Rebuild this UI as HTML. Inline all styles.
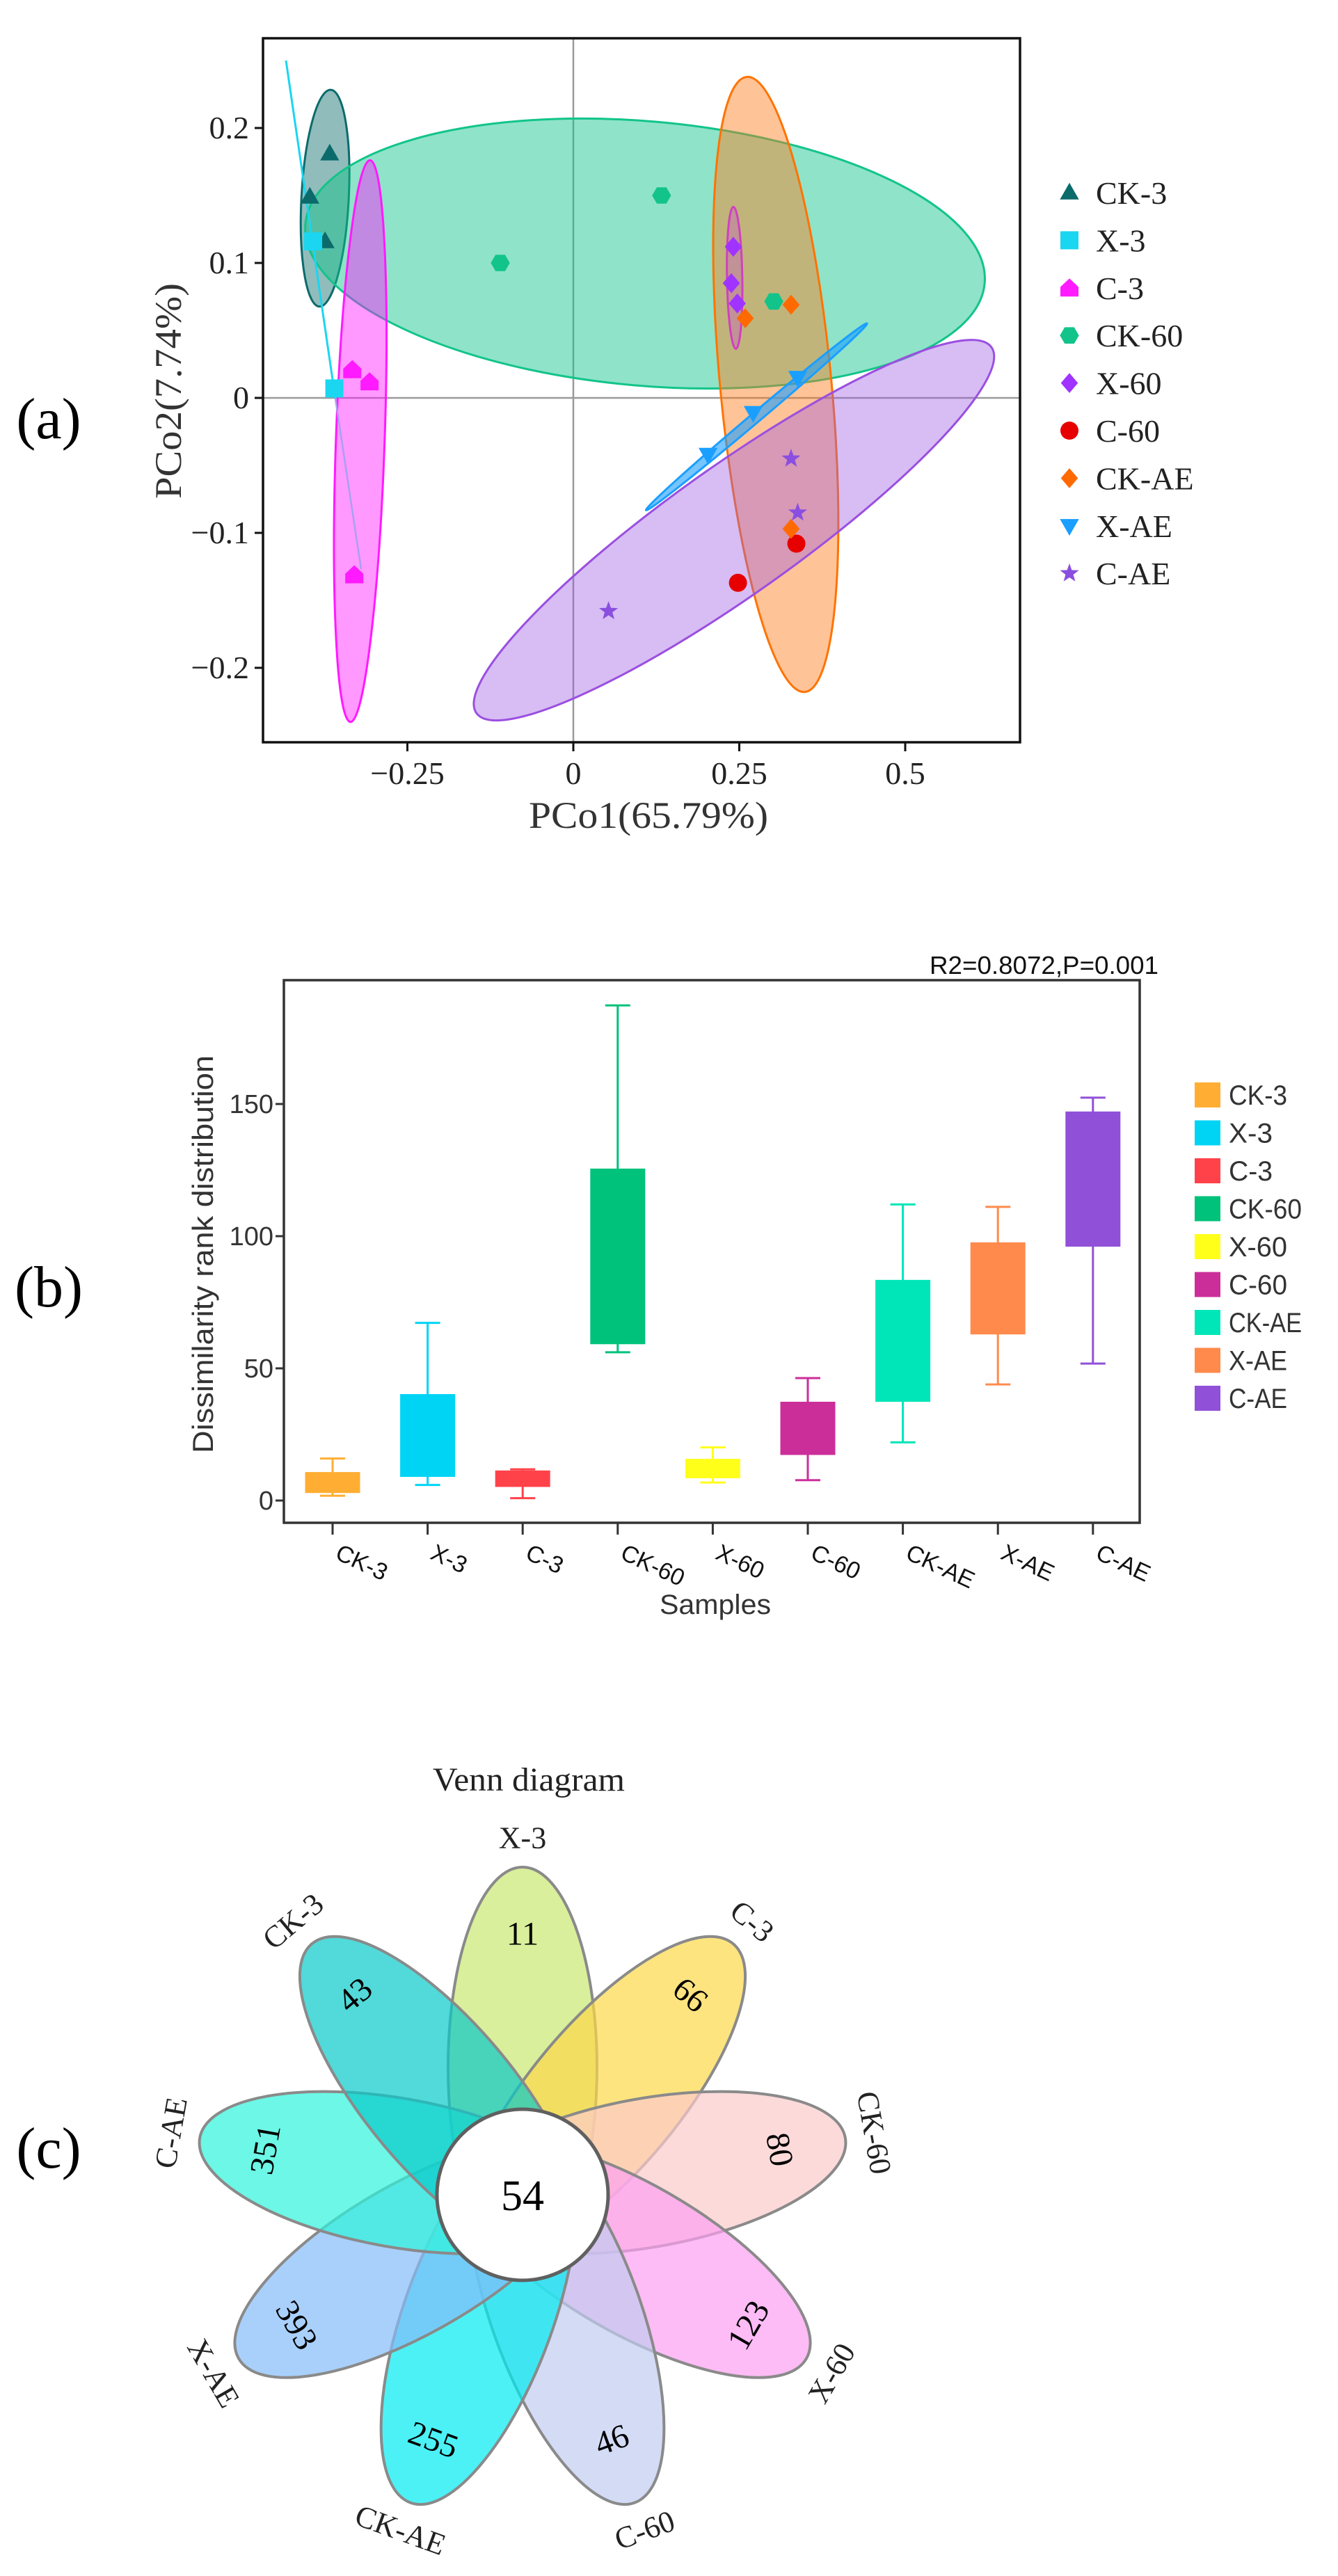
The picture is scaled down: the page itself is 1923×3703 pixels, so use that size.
<!DOCTYPE html>
<html><head><meta charset="utf-8"><title>PCoA, dissimilarity rank, Venn</title>
<style>html,body{margin:0;padding:0;background:#fff;}svg{display:block;}</style></head>
<body>
<svg id="fig" xmlns="http://www.w3.org/2000/svg" width="1923" height="3703" viewBox="0 0 1923 3703">
<rect x="0" y="0" width="1923" height="3703" fill="#fff"/>
<g id="pa"></g>
<g id="pb"></g>
<g id="pc"></g>
</svg>
<script>
// ---------- Panel (a) data ----------
const groupsA = ["CK-3","X-3","C-3","CK-60","X-60","C-60","CK-AE","X-AE","C-AE"];
const colorsA = ["#0b6b6b","#1ad6f0","#ff1aff","#12c48a","#a033ff","#e60000","#ff6a00","#1a9fff","#8a4fe0"];
const shapesA = ["tri","square","pent","hex","diamond","circle","diamond","tridown","star"];
const ptsX = [[-0.367,-0.397,-0.374],[-0.392,-0.360],[-0.333,-0.307,-0.330],[-0.110,0.133,0.302],[0.241,0.238,0.247],[0.336,0.248],[0.328,0.259,0.328],[0.338,0.271,0.203],[0.328,0.338,0.053]];
const ptsY = [[0.181,0.149,0.116],[0.116,0.007],[0.021,0.012,-0.131],[0.100,0.150,0.0715],[0.112,0.085,0.070],[-0.108,-0.137],[0.069,0.059,-0.097],[0.015,-0.011,-0.042],[-0.045,-0.085,-0.158]];
const xTicksA = [-0.25,0,0.25,0.5];
const xTickLabelsA = ["\u22120.25","0","0.25","0.5"];
const yTicksA = [0.2,0.1,0,-0.1,-0.2];
const yTickLabelsA = ["0.2","0.1","0","\u22120.1","\u22120.2"];

// ---------- Panel (b) data ----------
const catsB = ["CK-3","X-3","C-3","CK-60","X-60","C-60","CK-AE","X-AE","C-AE"];
const colorsB = ["#ffae33","#00d4f5","#ff4249","#00c27a","#ffff1a","#cc2e99","#00e6b8","#ff8a4c","#9050d8"];
const whiskHi = [15.9,67.2,11.8,187.3,20.1,46.3,112.0,111.1,152.4];
const q3B = [10.5,40.0,11.1,125.3,15.5,37.1,83.2,97.4,146.9];
const q1B = [3.1,9.2,5.4,59.4,8.7,17.5,37.6,63.1,96.3];
const whiskLo = [1.8,5.9,0.9,56.1,6.8,7.7,22.0,43.9,51.8];
const yTicksB = [0,50,100,150];

// ---------- Panel (c) data ----------
const vennSets = ["X-3","C-3","CK-60","X-60","C-60","CK-AE","X-AE","C-AE","CK-3"];
const vennCounts = [11,66,80,123,46,255,393,351,43];
const vennColors = ["#c9e870","#fcd848","#fccaca","#fc9ff1","#c0ccf1","#00ebf1","#84bcf9","#2df3db","#08c9c9"];
const vennCore = 54;

const NS = "http://www.w3.org/2000/svg";
function mk(tag, attrs, parent){ const e=document.createElementNS(NS,tag); for(const k in attrs) e.setAttribute(k,attrs[k]); parent.appendChild(e); return e; }
function txt(s, attrs, parent){ const e=mk("text",attrs,parent); e.textContent=s; return e; }
const SERIF='"Liberation Serif", serif', SANS='"Liberation Sans", sans-serif';

// ================= Panel A =================
const pa=document.getElementById("pa");
const AX=v=>824+954*v, AY=v=>572-1940*v;
function marker(shape,cx,cy,r,color,parent){
  let e;
  if(shape==="circle") e=mk("circle",{cx:cx,cy:cy,r:r,fill:color},parent);
  else if(shape==="square") e=mk("rect",{x:cx-r,y:cy-r,width:2*r,height:2*r,fill:color},parent);
  else{
    let pts=[];
    if(shape==="tri") pts=[[0,-r*1.1],[r*1.05,r*0.75],[-r*1.05,r*0.75]];
    else if(shape==="tridown") pts=[[0,r*1.1],[r*1.05,-r*0.75],[-r*1.05,-r*0.75]];
    else if(shape==="diamond") pts=[[0,-r*1.1],[r*0.95,0],[0,r*1.1],[-r*0.95,0]];
    else if(shape==="pent") pts=[[0,-r*1.05],[r,-r*0.1],[r,r*0.95],[-r,r*0.95],[-r,-r*0.1]];
    else if(shape==="hex") for(let i=0;i<6;i++){const a=Math.PI/3*i;pts.push([r*1.05*Math.cos(a),r*1.05*Math.sin(a)]);}
    else if(shape==="star") for(let i=0;i<10;i++){const a=-Math.PI/2+Math.PI/5*i;const rr=i%2?r*0.45:r*1.1;pts.push([rr*Math.cos(a),rr*Math.sin(a)]);}
    e=mk("polygon",{points:pts.map(p=>(cx+p[0]).toFixed(1)+","+(cy+p[1]).toFixed(1)).join(" "),fill:color},parent);
  }
  return e;
}
// zero lines
let zl=mk("line",{x1:AX(0),y1:55,x2:AX(0),y2:1067,stroke:"#9a9a9a","stroke-width":2.5},pa);


zl=mk("line",{x1:378,y1:AY(0),x2:1466,y2:AY(0),stroke:"#9a9a9a","stroke-width":2.5},pa);


// confidence ellipses (pixel geometry)
const ell=[
 {n:"ck-3-ellipse",cx:-0.374,cy:0.148,rx:34,ry:156,rot:3,fill:"#0b6b6b",op:0.45,st:"#0b6b6b"},
 {n:"ck-60-ellipse",cx:0.108,cy:0.107,rx:490,ry:190,rot:5,fill:"#12c48a",op:0.47,st:"#12c48a"},
 {n:"c-3-ellipse",cx:-0.321,cy:-0.032,rx:35,ry:404,rot:2,fill:"#ff1aff",op:0.45,st:"#ff1aff"},
 {n:"ck-ae-ellipse",cx:0.305,cy:0.010,rx:80,ry:444,rot:-5.4,fill:"#ff7a1a",op:0.45,st:"#ff7300"},
 {n:"c-ae-ellipse",cx:0.242,cy:-0.098,rx:454,ry:92,rot:-35.4,fill:"#9b5be0",op:0.4,st:"#9b4fe0"},
 {n:"x-60-ellipse",cx:0.243,cy:0.089,rx:11,ry:102,rot:-1,fill:"#c060c0",op:0.4,st:"#d040c0"},
 {n:"x-ae-ellipse",cx:0.276,cy:-0.014,rx:208,ry:7,rot:-40.2,fill:"#1a9fff",op:0.6,st:"#1a9fff"}
];
ell.forEach(o=>{
  const e=mk("ellipse",{cx:AX(o.cx),cy:AY(o.cy),rx:o.rx,ry:o.ry,transform:`rotate(${o.rot} ${AX(o.cx)} ${AY(o.cy)})`,fill:o.fill,"fill-opacity":o.op,stroke:o.st,"stroke-width":3},pa);
  
  
});
let xl=mk("line",{x1:411,y1:87,x2:482,y2:573,stroke:"#1ad6f0","stroke-width":3},pa);


xl=mk("line",{x1:482,y1:573,x2:519,y2:818,stroke:"#a8a0f0","stroke-width":2.5},pa);


// points
groupsA.forEach((g,gi)=>{
  ptsX[gi].forEach((vx,j)=>{
    const m=marker(shapesA[gi],AX(vx),AY(ptsY[gi][j]),13,colorsA[gi],pa);
    
    
  });
});
// frame
let fr=mk("rect",{x:378,y:55,width:1088,height:1012,fill:"none",stroke:"#111","stroke-width":3.5},pa);


xTicksA.forEach((v,i)=>{
  mk("line",{x1:AX(v),y1:1067,x2:AX(v),y2:1080,stroke:"#111","stroke-width":3},pa);
  const t=txt(xTickLabelsA[i],{x:AX(v),y:1127,"font-family":SERIF,"font-size":46,"text-anchor":"middle",fill:"#222"},pa);
  
  
});
yTicksA.forEach((v,i)=>{
  mk("line",{x1:366,y1:AY(v),x2:378,y2:AY(v),stroke:"#111","stroke-width":3},pa);
  const t=txt(yTickLabelsA[i],{x:358,y:AY(v)+15,"font-family":SERIF,"font-size":46,"text-anchor":"end",fill:"#222"},pa);
  
  
});
let t=txt("PCo1(65.79%)",{x:932,y:1190,"font-family":SERIF,"font-size":54,"text-anchor":"middle",fill:"#333",textLength:344,lengthAdjust:"spacingAndGlyphs"},pa);


t=txt("PCo2(7.74%)",{x:0,y:0,"font-family":SERIF,"font-size":54,"text-anchor":"middle",fill:"#333",textLength:310,lengthAdjust:"spacingAndGlyphs",transform:"translate(260 562) rotate(-90)"},pa);


t=txt("(a)",{x:70,y:630,"font-family":SERIF,"font-size":84,"text-anchor":"middle",fill:"#000"},pa);


groupsA.forEach((g,i)=>{
  const y=277+68.4*i;
  const m=marker(shapesA[i],1537,y,13,colorsA[i],pa);
  
  
  const lt=txt(g,{x:1575,y:y+16,"font-family":SERIF,"font-size":46,fill:"#222"},pa);
  
  
});

// ================= Panel B =================
const pb=document.getElementById("pb");
const BY=v=>2157-3.8*v, BX=i=>478+136.6*i, BW=77;
catsB.forEach((c,i)=>{
  const x=BX(i), col=colorsB[i];
  const g=mk("g",{},pb);
  
  
  mk("line",{x1:x,y1:BY(whiskHi[i]),x2:x,y2:BY(q3B[i]),stroke:col,"stroke-width":3},g);
  mk("line",{x1:x,y1:BY(q1B[i]),x2:x,y2:BY(whiskLo[i]),stroke:col,"stroke-width":3},g);
  mk("line",{x1:x-18,y1:BY(whiskHi[i]),x2:x+18,y2:BY(whiskHi[i]),stroke:col,"stroke-width":3},g);
  mk("line",{x1:x-18,y1:BY(whiskLo[i]),x2:x+18,y2:BY(whiskLo[i]),stroke:col,"stroke-width":3},g);
  mk("rect",{x:x-BW/2,y:BY(q3B[i]),width:BW,height:BY(q1B[i])-BY(q3B[i]),fill:col,stroke:col,"stroke-width":2},g);
  mk("line",{x1:x,y1:2189,x2:x,y2:2206,stroke:"#333","stroke-width":3},pb);
  const lt=txt(c,{x:0,y:0,"font-family":SANS,"font-size":34,fill:"#111",transform:`translate(${x+2} ${2240}) rotate(25)`},pb);
  
  
});
fr=mk("path",{d:"M408 1409 H1638 V2189 H408 Z",fill:"none",stroke:"#333","stroke-width":3.5},pb);


yTicksB.forEach(v=>{
  mk("line",{x1:396,y1:BY(v),x2:408,y2:BY(v),stroke:"#333","stroke-width":3},pb);
  const lt=txt(String(v),{x:393,y:BY(v)+13,"font-family":SANS,"font-size":38,"text-anchor":"end",fill:"#333"},pb);
  
  
});
t=txt("Dissimilarity rank distribution",{x:0,y:0,"font-family":SANS,"font-size":42,"text-anchor":"middle",fill:"#333",textLength:572,lengthAdjust:"spacingAndGlyphs",transform:"translate(306 1803) rotate(-90)"},pb);


t=txt("Samples",{x:1028,y:2320,"font-family":SANS,"font-size":40,"text-anchor":"middle",fill:"#333",textLength:160,lengthAdjust:"spacingAndGlyphs"},pb);


t=txt("R2=0.8072,P=0.001",{x:1665,y:1400,"font-family":SANS,"font-size":36,"text-anchor":"end",fill:"#111",textLength:329,lengthAdjust:"spacingAndGlyphs"},pb);


t=txt("(b)",{x:70,y:1878,"font-family":SERIF,"font-size":84,"text-anchor":"middle",fill:"#000"},pb);


catsB.forEach((c,i)=>{
  const y=1574+54.5*i;
  const r=mk("rect",{x:1717,y:y-18,width:37,height:36,fill:colorsB[i]},pb);
  
  
  const lt=txt(c,{x:1766,y:y+14,"font-family":SANS,"font-size":40,fill:"#333",textLength:c.length*21,lengthAdjust:"spacingAndGlyphs"},pb);
  
  
});

// ================= Panel C =================
const pc=document.getElementById("pc");
const VCX=751, VCY=3155;
t=txt("Venn diagram",{x:760,y:2574,"font-family":SERIF,"font-size":48,"text-anchor":"middle",fill:"#222",textLength:276,lengthAdjust:"spacingAndGlyphs"},pc);


vennSets.forEach((s,i)=>{
  const ang=40*i, rad=ang*Math.PI/180;
  const pcx=VCX+183*Math.sin(rad), pcy=VCY-183*Math.cos(rad);
  const e=mk("ellipse",{cx:pcx,cy:pcy,rx:107,ry:288,transform:`rotate(${ang} ${pcx} ${pcy})`,fill:vennColors[i],"fill-opacity":0.7,stroke:"#8a8a8a","stroke-width":4},pc);
  
  
});
vennSets.forEach((s,i)=>{
  const ang=40*i, rad=ang*Math.PI/180;
  const rot=(ang>90&&ang<270)?ang-180:(ang>=270?ang-360:ang);
  const nx=VCX+375*Math.sin(rad), ny=VCY-375*Math.cos(rad);
  const n=txt(String(vennCounts[i]),{x:0,y:0,"font-family":SERIF,"font-size":48,"text-anchor":"middle","dominant-baseline":"central",fill:"#000",transform:`translate(${nx.toFixed(1)} ${ny.toFixed(1)}) rotate(${rot})`},pc);
  
  
  const lx=VCX+513*Math.sin(rad), ly=VCY-513*Math.cos(rad);
  const l=txt(s,{x:0,y:0,"font-family":SERIF,"font-size":44,"text-anchor":"middle","dominant-baseline":"central",fill:"#222",transform:`translate(${lx.toFixed(1)} ${ly.toFixed(1)}) rotate(${rot})`},pc);
  
  
});
let cc=mk("circle",{cx:VCX,cy:VCY,r:123,fill:"#fff",stroke:"#606060","stroke-width":5},pc);


t=txt(String(vennCore),{x:VCX,y:VCY+2,"font-family":SERIF,"font-size":62,"text-anchor":"middle","dominant-baseline":"central",fill:"#000"},pc);


t=txt("(c)",{x:70,y:3116,"font-family":SERIF,"font-size":84,"text-anchor":"middle",fill:"#000"},pc);


</script>
</body></html>
